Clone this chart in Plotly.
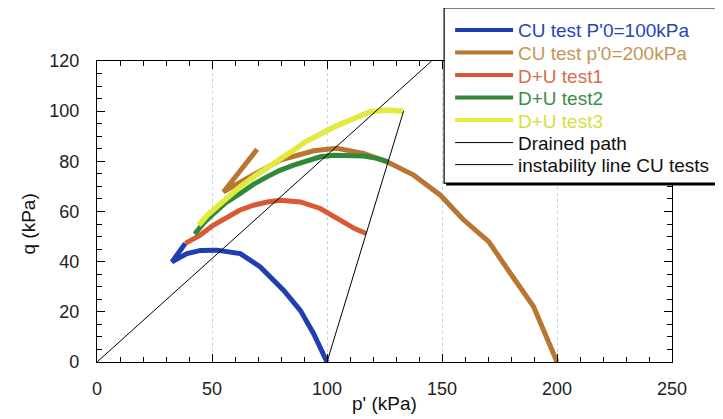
import plotly.graph_objects as go

# ---- data (p', q) in kPa ----
cu100_p = [100, 94.2, 88.4, 81.1, 71.0, 62.3, 52.2, 45.0, 39.1, 32.6, 38.4]
cu100_q = [0, 11.3, 20.6, 28.6, 37.9, 43.2, 44.6, 44.5, 43.2, 39.9, 47.3]

cu200_p = [200, 194.9, 189.8, 179.7, 170.3, 159.0, 149.3, 137.7, 126.1, 115.9, 104.3, 94.2, 79.7, 65.2, 55.0, 69.6]
cu200_q = [0, 11.4, 22.1, 35.4, 48.0, 57.0, 66.5, 74.5, 79.8, 83.2, 85.2, 84.2, 80.5, 73.2, 67.8, 84.8]

du1_p = [38.4, 44.9, 50.5, 56.5, 62.0, 68.1, 74.0, 79.7, 88.4, 97.1, 102.0, 107.2, 112.0, 117.1]
du1_q = [47.3, 50.6, 54.5, 57.8, 60.5, 62.5, 63.8, 64.5, 63.8, 61.2, 58.8, 55.8, 53.2, 51.2]

du2_p = [42.5, 46.0, 50.7, 56.0, 62.3, 68.0, 73.9, 79.5, 85.5, 91.0, 97.1, 103.0, 110.1, 116.0, 121.7, 126.4]
du2_q = [51.0, 55.0, 59.2, 63.5, 67.2, 70.8, 73.8, 76.4, 78.5, 80.3, 81.8, 82.4, 82.5, 82.1, 81.2, 79.9]

du3_p = [44.2, 48.0, 52.2, 57.0, 62.3, 68.0, 73.9, 79.5, 85.5, 91.0, 97.1, 103.5, 110.1, 114.5, 118.8, 126.1, 133.3]
du3_q = [54.5, 58.5, 61.9, 66.0, 69.9, 73.8, 77.2, 81.0, 84.5, 88.0, 91.1, 93.9, 96.5, 98.3, 99.8, 100.5, 100.0]

drained_p = [100, 133.3]
drained_q = [0, 100]

instab_p = [0, 145.5]
instab_q = [0, 120]

x_ticks = [0, 50, 100, 150, 200, 250]
y_ticks = [0, 20, 40, 60, 80, 100, 120]

legend_names = ["CU test P'0=100kPa", "CU test p'0=200kPa", "D+U test1",
                "D+U test2", "D+U test3", "Drained path",
                "instability line CU tests"]
line_colors = ["rgb(32,62,178)", "rgb(184,118,50)", "rgb(218,88,52)",
               "rgb(48,136,56)", "rgb(226,234,62)", "black", "black"]
text_colors = ["rgb(40,70,180)", "rgb(196,150,90)", "rgb(214,110,80)",
               "rgb(60,140,70)", "rgb(214,222,70)", "#111", "#111"]
line_widths = [5, 5, 5, 5, 5.5, 1, 1]

series = [(cu100_p, cu100_q), (cu200_p, cu200_q), (du1_p, du1_q),
          (du2_p, du2_q), (du3_p, du3_q), (drained_p, drained_q),
          (instab_p, instab_q)]

FONT = "Liberation Sans, Arial, Helvetica, sans-serif"

fig = go.Figure()
for (p, q), nm, col, w in zip(series, legend_names, line_colors, line_widths):
    fig.add_trace(go.Scatter(x=p, y=q, mode="lines", name=nm,
                             line=dict(color=col, width=w), showlegend=False))

axis_common = dict(
    showline=True, linecolor="black", linewidth=1.2, mirror="allticks",
    ticks="inside", ticklen=8, tickwidth=1, tickcolor="black",
    tickfont=dict(family=FONT, size=18, color="#222"),
    zeroline=False,
)

fig.update_xaxes(
    range=[0, 250], tickvals=x_ticks, ticktext=[str(v) for v in x_ticks],
    showgrid=True, gridcolor="rgb(185,212,238)", griddash="dot", gridwidth=1,
    minor=dict(dtick=10, ticks="inside", ticklen=5, tickcolor="black", showgrid=False),
    ticklabelstandoff=10,
    **axis_common,
)
fig.update_yaxes(
    range=[0, 120], tickvals=y_ticks, ticktext=[str(v) for v in y_ticks],
    showgrid=False,
    minor=dict(dtick=5, ticks="inside", ticklen=5, tickcolor="black", showgrid=False),
    ticklabelstandoff=13,
    **axis_common,
)

# ---- legend box (pixel layout on the page converted to paper units) ----
L, R_, T, B = 96.7, 672.0, 61.0, 361.7          # plot area in page pixels
def px(xp):
    return (xp - L) / (R_ - L)
def py(yp):
    return (B - yp) / (B - T)

shapes = [
    dict(type="rect", xref="paper", yref="paper", layer="above",
         x0=px(446), x1=px(720.5), y0=py(11), y1=py(185.5),
         fillcolor="black", line=dict(width=0)),
    dict(type="rect", xref="paper", yref="paper", layer="above",
         x0=px(444), x1=px(718), y0=py(8), y1=py(183),
         fillcolor="white", line=dict(color="black", width=1.2)),
]
row_y = [30, 52.5, 75, 97.5, 120, 142.5, 164.5]
annotations = []
for yy, nm, col, tc, w in zip(row_y, legend_names, line_colors, text_colors, line_widths):
    shapes.append(dict(type="line", xref="paper", yref="paper", layer="above",
                       x0=px(455), x1=px(513), y0=py(yy), y1=py(yy),
                       line=dict(color=col, width=4 if w > 2 else 1)))
    annotations.append(dict(text=nm, xref="paper", yref="paper",
                            x=px(516), y=py(yy + 1), xanchor="left", yanchor="middle",
                            showarrow=False,
                            font=dict(family=FONT, size=19, color=tc)))

annotations += [
    dict(text="p' (kPa)", xref="paper", yref="paper", x=0.5, y=py(403),
         xanchor="center", yanchor="middle", showarrow=False,
         font=dict(family=FONT, size=19, color="#111")),
    dict(text="q (kPa)", xref="paper", yref="paper", x=px(28), y=py(224),
         xanchor="center", yanchor="middle", showarrow=False, textangle=-90,
         font=dict(family=FONT, size=19, color="#111")),
]

# The page body has an 8px margin, so the figure is 8px smaller and the
# left/top margins 8px less, putting the plot area where the reference has it.
fig.update_layout(
    width=715, height=411,
    margin=dict(l=89, r=51, t=53, b=57, pad=0, autoexpand=False),
    plot_bgcolor="white", paper_bgcolor="white",
    font=dict(family=FONT, size=17, color="#111"),
    showlegend=False,
    shapes=shapes,
    annotations=annotations,
)

fig.write_html("out.html")
